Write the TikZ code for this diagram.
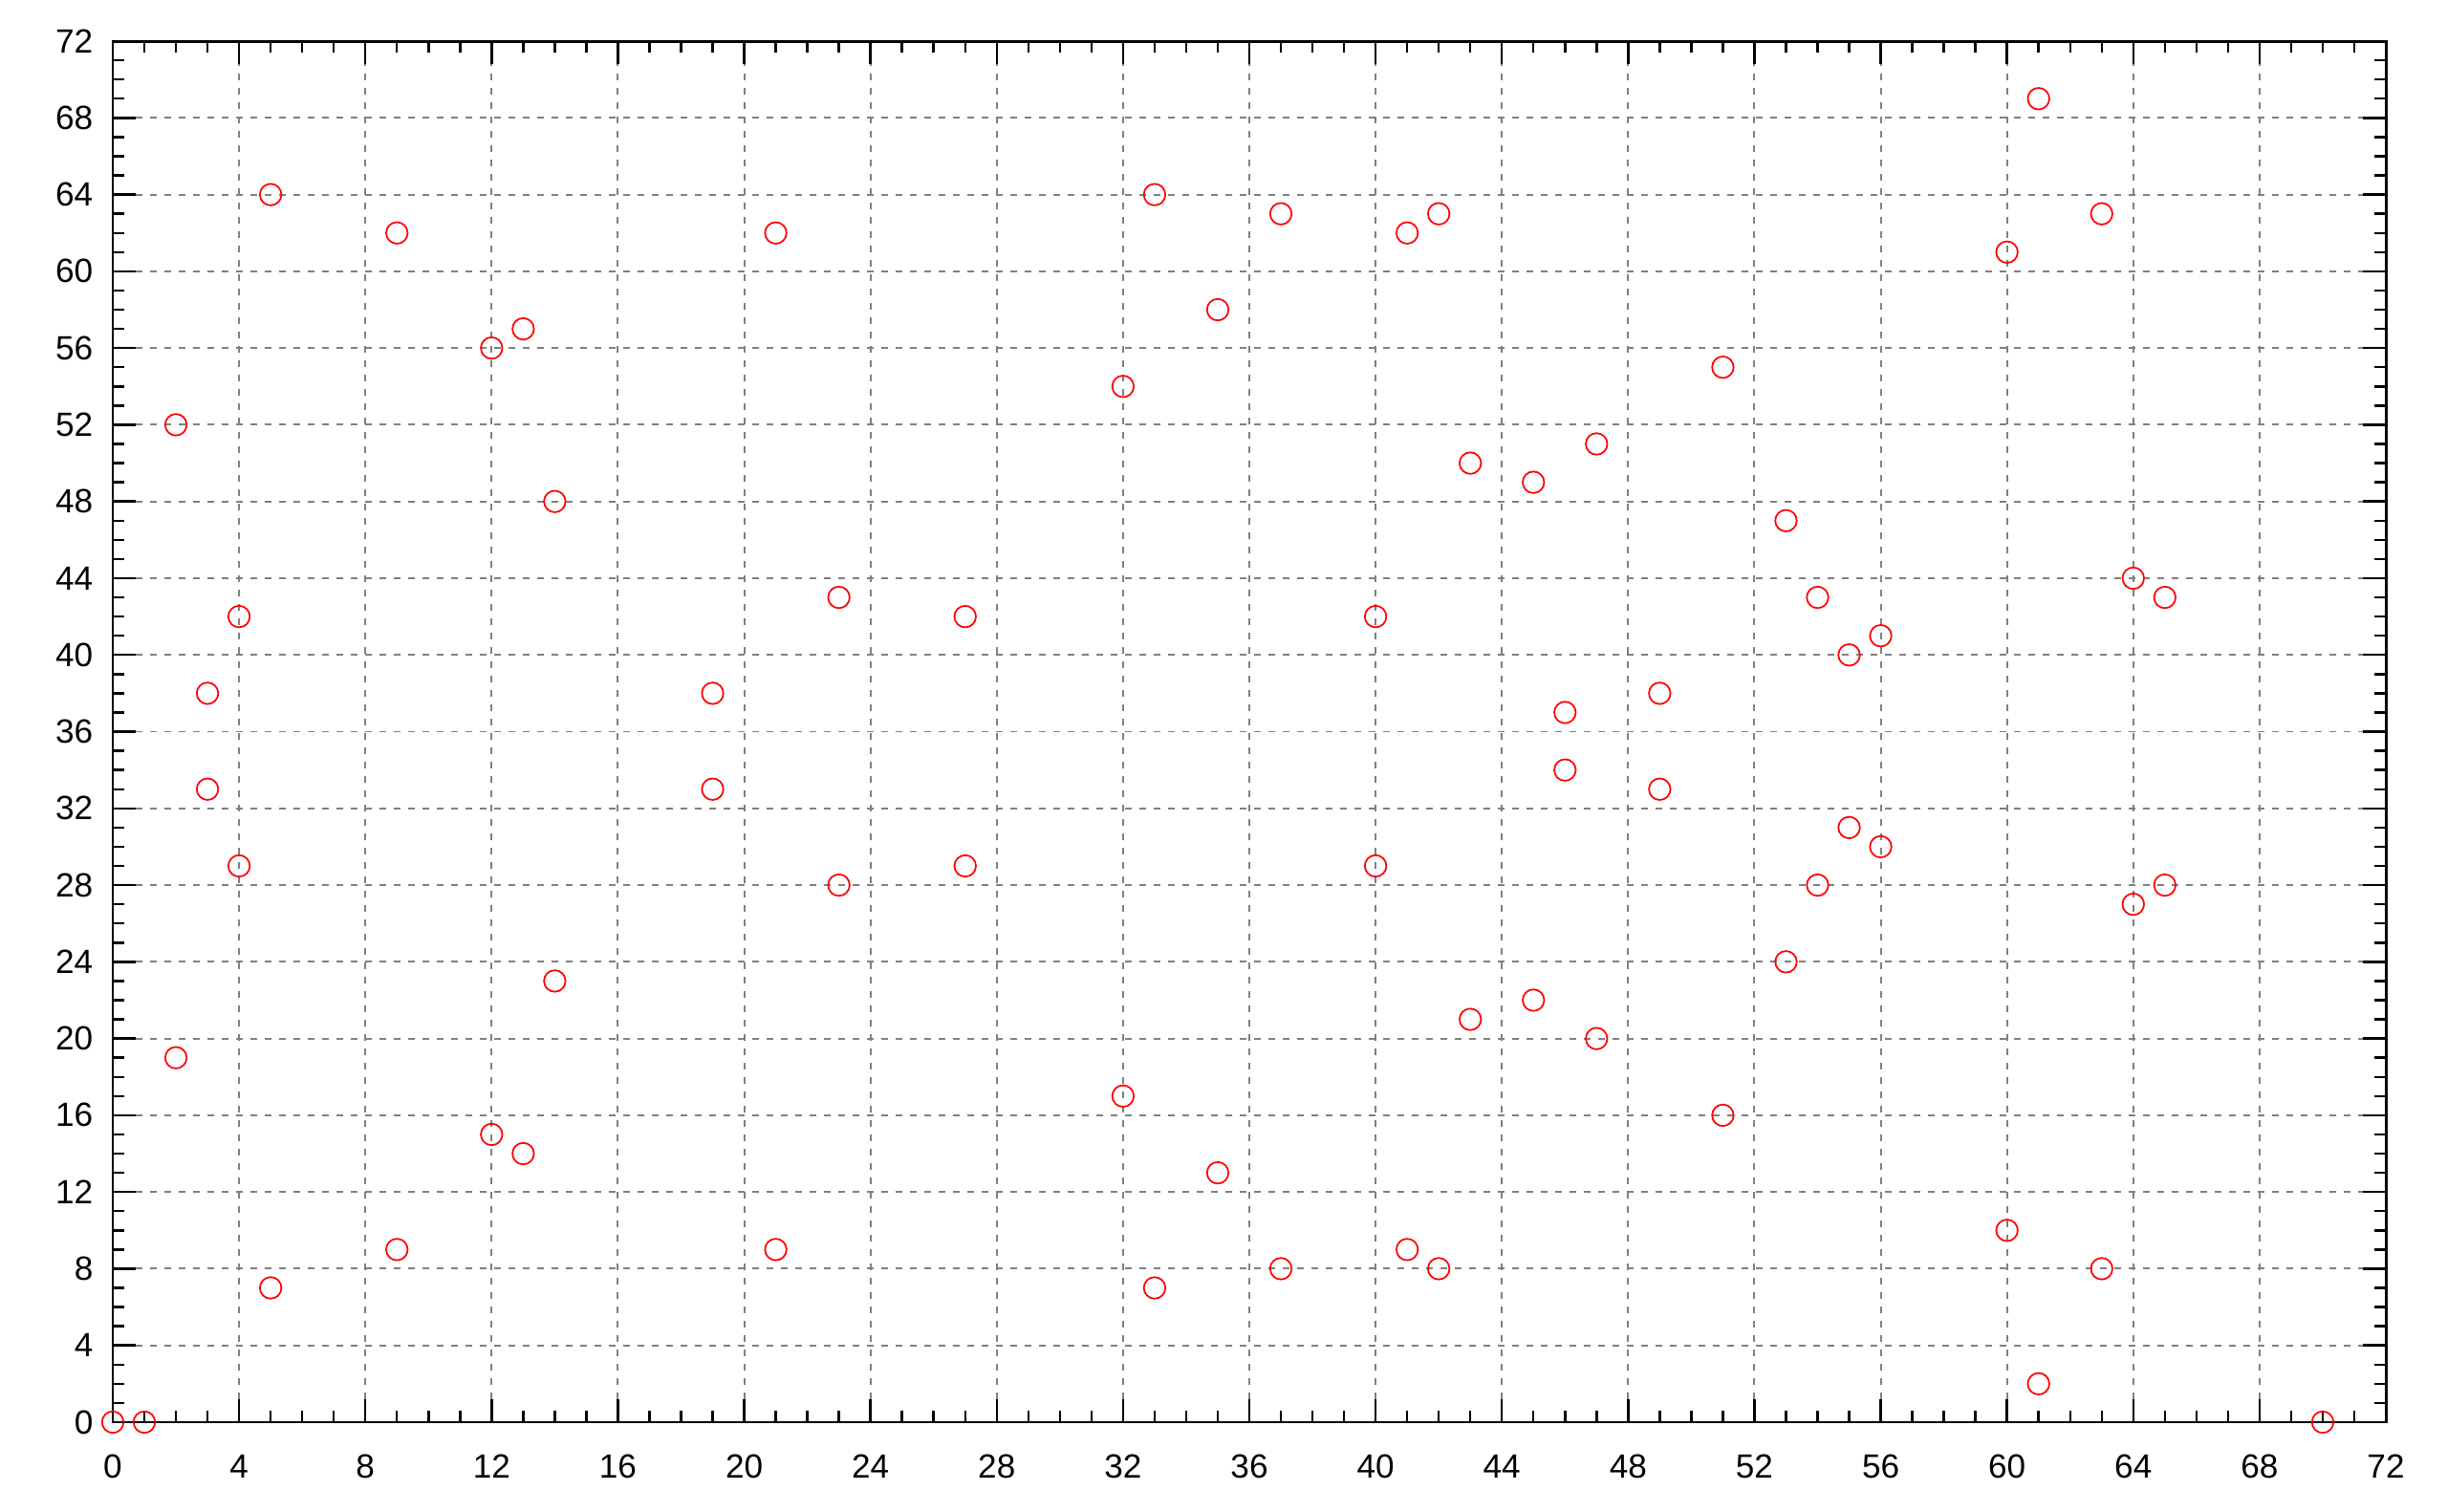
\documentclass[tikz,border=0pt]{standalone}
\usepackage{fontspec}
\setmainfont{Liberation Sans}
\usetikzlibrary{calc}
\begin{document}
\begin{tikzpicture}[
  frame/.style={line width=0.85pt,black},
  tickmark/.style={line width=0.7pt,black},
  gridline/.style={line width=0.55pt,color={rgb,255:red,128;green,128;blue,128},dash pattern=on 0.067cm off 0.083cm},
  pt/.style={circle,draw=red,line width=0.5pt,minimum size=0.225cm,inner sep=0pt},
  ticklabel/.style={font=\fontsize{10}{12}\selectfont,inner sep=0pt}
]
\useasboundingbox (0,0) rectangle (25.6cm,15.82cm);
\begin{scope}[shift={(1.18cm,0.94cm)},x=0.33028cm,y=0.20069cm]
  % grid
  \foreach \v in {4,8,...,68}{
    \draw[gridline] ($(\v,0)+(0,0.24cm)$) -- ($(\v,72)+(0,-0.24cm)$);
  }
  \foreach \v in {4,8,...,68}{
    \draw[gridline] ($(0,\v)+(0.24cm,0)$) -- ($(72,\v)+(-0.24cm,0)$);
  }
  % minor ticks
  \foreach \v in {1,...,71}{
    \draw[tickmark] (\v,0) -- ++(0,0.12cm);
    \draw[tickmark] (\v,72) -- ++(0,-0.12cm);
    \draw[tickmark] (0,\v) -- ++(0.12cm,0);
    \draw[tickmark] (72,\v) -- ++(-0.12cm,0);
  }
  % major ticks
  \foreach \v in {4,8,...,68}{
    \draw[tickmark] (\v,0) -- ++(0,0.24cm);
    \draw[tickmark] (\v,72) -- ++(0,-0.24cm);
    \draw[tickmark] (0,\v) -- ++(0.24cm,0);
    \draw[tickmark] (72,\v) -- ++(-0.24cm,0);
  }
  % frame
  \draw[frame] (0,0) rectangle (72,72);
  % labels
  \foreach \v in {0,4,...,72}{
    \node[ticklabel] (xl\v) at ($(\v,0)+(0,-0.46cm)$) {\v};
    \node[ticklabel,anchor=east] (yl\v) at ($(0,\v)+(-0.2cm,0)$) {\v};
  }
  % points
  \foreach \px/\py [count=\i] in {0/0,1/0,2/52,2/19,3/38,3/33,4/42,4/29,5/64,5/7,9/62,9/9,12/56,12/15,13/57,13/14,14/48,14/23,19/38,19/33,21/62,21/9,23/43,23/28,27/42,27/29,32/54,32/17,33/64,33/7,35/58,35/13,37/63,37/8,40/42,40/29,41/62,41/9,42/63,42/8,43/50,43/21,45/49,45/22,46/37,46/34,47/51,47/20,49/38,49/33,51/55,51/16,53/47,53/24,54/43,54/28,55/40,55/31,56/41,56/30,60/61,60/10,61/69,61/2,63/63,63/8,64/44,64/27,65/43,65/28,70/0}{
    \node[pt] (p\i) at (\px,\py) {};
  }
\end{scope}
\end{tikzpicture}
\end{document}
